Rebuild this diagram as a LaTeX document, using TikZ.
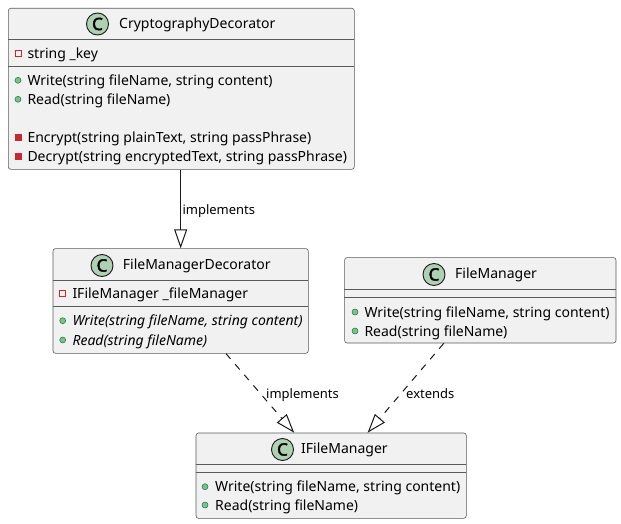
\documentclass[tikz,border=0pt]{standalone}
\usepackage{fontspec}
\setmainfont{Noto Sans}
\newfontfamily\iconfont[FakeBold=2.5]{Noto Sans}
\usetikzlibrary{arrows.meta}
\definecolor{boxfill}{HTML}{F1F1F1}
\definecolor{boxdraw}{HTML}{181818}
\definecolor{sepcol}{HTML}{5A5A5A}
\definecolor{iconfill}{HTML}{ADD1B2}
\definecolor{privred}{HTML}{C82930}
\definecolor{pubfill}{HTML}{84BE84}
\definecolor{pubdraw}{HTML}{038048}
\tikzset{
  classbox/.style={draw=sepcol, fill=boxfill, line width=0.6pt, rounded corners=2.5pt,
    rectangle, inner sep=0pt, anchor=north west},
  sepline/.style={draw=sepcol, line width=0.6pt},
  cicon/.style={circle, draw=boxdraw, fill=iconfill, line width=0.9pt, minimum size=22pt, inner sep=0pt,
    text=black, font=\fontsize{17}{17}\iconfont},
  title/.style={anchor=west, inner sep=0pt, text height=10pt, text depth=0pt, font=\fontsize{14}{16}\selectfont},
  mem/.style={anchor=west, inner sep=0pt, text height=10pt, text depth=0pt, font=\fontsize{14}{16}\selectfont},
  lbl/.style={anchor=west, inner sep=0pt, text height=9.3pt, text depth=0pt, font=\fontsize{13}{15}\selectfont},
  rel/.style={draw=boxdraw, line width=1pt, -{Triangle[open, length=19pt, width=13pt]}},
  reldash/.style={rel, dash pattern=on 7pt off 7pt},
  privf/.style={draw=privred, line width=0.8pt},
  privm/.style={draw=privred, fill=privred, line width=0.5pt},
  pubm/.style={draw=pubdraw, fill=pubfill, line width=0.5pt},
}
\newcommand\umlpub[2]{\filldraw[pubm] (#1,#2) circle (3);}
\begin{document}
\begin{tikzpicture}[x=1pt,y=-1pt]
\useasboundingbox (0,0) rectangle (621,524);

% CryptographyDecorator
\node[classbox, minimum width=346pt, minimum height=161pt] (crypto) at (8,8) {};
\draw[sepline] (8,39.5) -- (354,39.5);
\draw[sepline] (8,66) -- (354,66);
\node[cicon] (cryptoC) at (97.5,24) {C};
\node[title] (cryptoT) at (119,23.5) {CryptographyDecorator};
\draw[privf] (15,50.3) rectangle (21,56.3);
\node[mem] (cryptoF1) at (27.3,53.3) {string \_key};
\umlpub{18}{80.3}
\node[mem] (cryptoM1) at (27.3,80.3) {Write(string fileName, string content)};
\umlpub{18}{99.3}
\node[mem] (cryptoM2) at (27.3,99.3) {Read(string fileName)};
\filldraw[privm] (15,134.3) rectangle (21,140.3);
\node[mem] (cryptoM3) at (27.3,137.3) {Encrypt(string plainText, string passPhrase)};
\filldraw[privm] (15,153) rectangle (21,159);
\node[mem] (cryptoM4) at (27.3,156) {Decrypt(string encryptedText, string passPhrase)};

% FileManagerDecorator
\node[classbox, minimum width=255.3pt, minimum height=104.7pt] (fmd) at (52.7,248.3) {};
\draw[sepline] (52.7,280.7) -- (308,280.7);
\draw[sepline] (52.7,306.7) -- (308,306.7);
\node[cicon] (fmdC) at (102,265.5) {C};
\node[title] (fmdT) at (122.7,264.5) {FileManagerDecorator};
\draw[privf] (59.7,290.3) rectangle (65.7,296.3);
\node[mem] (fmdF1) at (72.3,293.3) {IFileManager \_fileManager};
\umlpub{62.7}{320.7}
\node[mem] (fmdM1) at (72.3,320.7) {\itshape Write(string fileName, string content)};
\umlpub{62.7}{340}
\node[mem] (fmdM2) at (72.3,340) {\itshape Read(string fileName)};

% FileManager
\node[classbox, minimum width=271.4pt, minimum height=85.4pt] (fm) at (344.3,257.3) {};
\draw[sepline] (344.3,289.3) -- (615.7,289.3);
\draw[sepline] (344.3,297.3) -- (615.7,297.3);
\node[cicon] (fmC) at (434,274.5) {C};
\node[title] (fmT) at (455,273.5) {FileManager};
\umlpub{355}{312}
\node[mem] (fmM1) at (364.3,312) {Write(string fileName, string content)};
\umlpub{355}{331}
\node[mem] (fmM2) at (364.3,331) {Read(string fileName)};

% IFileManager
\node[classbox, minimum width=270.3pt, minimum height=85.3pt] (ifm) at (195.7,432.7) {};
\draw[sepline] (195.7,464.3) -- (466,464.3);
\draw[sepline] (195.7,472.3) -- (466,472.3);
\node[cicon] (ifmC) at (282.5,449.5) {C};
\node[title] (ifmT) at (301,448.7) {IFileManager};
\umlpub{205}{486.7}
\node[mem] (ifmM1) at (215,486.7) {Write(string fileName, string content)};
\umlpub{205}{505}
\node[mem] (ifmM2) at (215,505) {Read(string fileName)};

% relations
\draw[rel] (crypto.south -| fmd.north) -- (fmd.north);
\node[lbl] (l1) at (182.3,209.5) {implements};
\draw[reldash] (fmd) -- (ifm);
\node[lbl] (l2) at (266,393.5) {implements};
\draw[reldash] (fm) -- (ifm);
\node[lbl] (l3) at (406,393.5) {extends};
\end{tikzpicture}
\end{document}
